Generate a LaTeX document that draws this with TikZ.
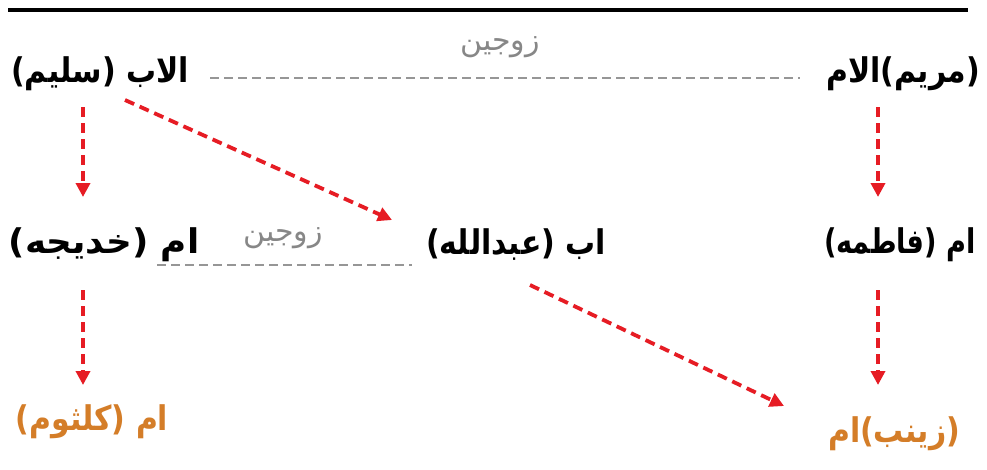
\documentclass[tikz,border=0pt]{standalone}
\usepackage{fontspec}
\TeXXeTstate=1
\newfontfamily\arabicfont[Script=Arabic]{DejaVu Sans}
\usetikzlibrary{arrows.meta}
\definecolor{arrowred}{RGB}{230,28,36}
\definecolor{pairgray}{RGB}{135,135,135}
\definecolor{dashgray}{RGB}{150,150,150}
\definecolor{childorange}{RGB}{212,125,40}
\newcommand\pname[2][0.88]{\scalebox{#1}[1]{\beginR #2\endR}}
\tikzset{
  person/.style={font=\arabicfont\bfseries\fontsize{34}{40}\selectfont, inner sep=0pt, anchor=center},
  pairlabel/.style={font=\arabicfont\fontsize{30}{34}\selectfont, text=pairgray, inner sep=0pt},
  spouse/.style={draw=dashgray, line width=2.5pt, dash pattern=on 9pt off 5pt},
  descent/.style={draw=arrowred, line width=3.8pt, dash pattern=on 10pt off 6pt, -{Triangle[length=14pt,width=14pt]}}
}
\begin{document}
\begin{tikzpicture}[x=1pt,y=-1pt]
\useasboundingbox (0,0) rectangle (987,469);
\fill[white] (0,0) rectangle (987,469);
\draw[line width=4pt] (8,10) -- (968,10);
% people
\node[person] (salim) at (100,74) {\pname{الاب (سليم)}};
\node[pairlabel] (pair1) at (500,47) {\pname[1]{زوجين}};
\node[person] (maryam) at (903,74) {\pname{(مريم)الام}};
\node[person] (khadija) at (104,245) {\pname[1.05]{ام (خديجه)}};
\node[pairlabel] (pair2) at (283,238) {\pname[1]{زوجين}};
\node[person] (abdullah) at (516,245) {\pname{اب (عبدالله)}};
\node[person] (fatima) at (900,245) {\pname[0.8]{ام (فاطمه)}};
\node[person, text=childorange] (kulthum) at (92,422) {\pname{ام (كلثوم)}};
\node[person, text=childorange] (zainab) at (894,434) {\pname{(زينب)ام}};
% spouses
\draw[spouse] ([shift={(110,4)}]salim.center) -- ([shift={(-103,4)}]maryam.center);
\draw[spouse] ([shift={(53,20)}]khadija.center) -- ([shift={(-104,20)}]abdullah.center);
% descent
\draw[descent] ([shift={(-17,33)}]salim.center) -- ([shift={(-21,-48)}]khadija.center);
\draw[descent] ([shift={(25,26)}]salim.center) -- ([shift={(-124,-25)}]abdullah.center);
\draw[descent] ([shift={(-25,33)}]maryam.center) -- ([shift={(-22,-48)}]fatima.center);
\draw[descent] ([shift={(-21,45)}]khadija.center) -- ([shift={(-9,-37)}]kulthum.center);
\draw[descent] ([shift={(14,40)}]abdullah.center) -- ([shift={(-110,-28)}]zainab.center);
\draw[descent] ([shift={(-22,45)}]fatima.center) -- ([shift={(-16,-49)}]zainab.center);
\end{tikzpicture}
\end{document}
